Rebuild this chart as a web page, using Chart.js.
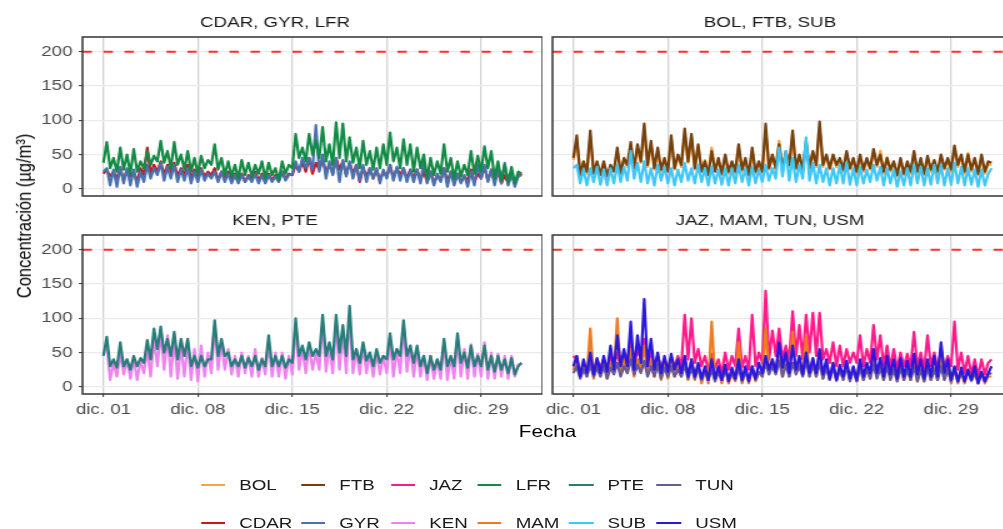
<!DOCTYPE html>
<html>
<head>
<meta charset="utf-8">
<script src="https://cdn.jsdelivr.net/npm/chart.js@4.4.1/dist/chart.umd.min.js"></script>
<style>
html, body { margin: 0; padding: 0; background: #fff; overflow: hidden; width: 1003px; height: 529px; }
#wrap { position: absolute; left: 0; top: 0; width: 830px; height: 529px; transform: scaleX(1.25); transform-origin: 0 0; font-family: "Liberation Sans", Arial, sans-serif; }
canvas { position: absolute; }
.ttl { position: absolute; color: #000; font-size: 16.5px; white-space: nowrap; transform: translate(-50%, -50%); }
#ytitle { transform: translate(-50%, -50%) rotate(-90deg); }
.key { position: absolute; height: 2.4px; width: 19.6px; }
.lab { position: absolute; font-size: 15px; line-height: 18px; color: #1a1a1a; white-space: nowrap; }
</style>
</head>
<body>
<div id="wrap">
  <canvas id="c0" width="428" height="216" style="left:6px;top:10px"></canvas>
  <canvas id="c1" width="388" height="216" style="left:422px;top:10px"></canvas>
  <canvas id="c2" width="428" height="216" style="left:6px;top:208px"></canvas>
  <canvas id="c3" width="388" height="216" style="left:422px;top:208px"></canvas>
  <div class="ttl" id="ytitle" style="left:19px;top:216px">Concentración (µg/m³)</div>
  <div class="ttl" id="xtitle" style="left:438px;top:431px">Fecha</div>
  <div id="legend"></div>
</div>
<script>
// samples every 6 h from dic. 01 00:00 (x in days)
const STEP_DAYS = 0.25;
const TICK_DAYS = [0, 7, 14, 21, 28];
const TICK_LABELS = ['dic. 01', 'dic. 08', 'dic. 15', 'dic. 22', 'dic. 29'];
const Y_TICKS = [0, 50, 100, 150, 200];
const LIMIT = 200;

const STATIONS = ['BOL', 'CDAR', 'FTB', 'GYR', 'JAZ', 'KEN', 'LFR', 'MAM', 'PTE', 'SUB', 'TUN', 'USM'];
const COLORS = {
    BOL: '#ffa03c', CDAR: '#d0141a', FTB: '#74410f', GYR: '#4a72b0',
    JAZ: '#ff1a8c', KEN: '#ee82ee', LFR: '#138a45', MAM: '#ee7b1f',
    PTE: '#277d7a', SUB: '#3fc8f7', TUN: '#6a5a92', USM: '#2b18de'
};

const LFR = [
    38,68,30,45, 25,60,28,50, 22,58,25,40, 30,55,35,48, 40,70,38,55, 30,68,35,50, 28,55,25,45, 22,48,30,42,
    35,65,28,45, 20,40,18,35, 15,42,20,38, 18,35,22,40, 15,38,20,30, 12,40,22,35, 30,80,45,60, 40,80,50,70,
    45,90,40,65, 35,97,45,95, 40,75,38,60, 30,70,35,55, 28,60,30,65, 35,82,40,60, 30,72,35,65, 25,60,30,50,
    15,45,20,40, 22,65,25,45, 15,40,18,35, 20,55,22,48, 25,62,30,55, 15,40,12,35, 10,32,8,25, 22
];
const CDAR = [
    22,28,18,25, 15,30,12,28, 18,25,10,30, 20,60,22,35, 25,40,20,35, 22,38,18,30, 20,35,15,28, 15,30,18,25,
    20,30,12,25, 15,25,12,22, 12,22,10,20, 15,25,12,22, 10,22,12,20, 12,25,15,22, 20,35,25,40, 25,45,22,38,
    28,42,25,35, 22,45,28,40, 20,38,22,35, 10,30,18,30, 15,28,12,25, 18,35,15,30, 20,30,15,28, 15,28,12,25,
    10,25,8,20, 12,30,10,25, 8,22,10,18, 12,28,10,22, 15,32,12,28, 10,25,8,20, 8,20,10,18, 22
];
const GYR = [
    25,30,5,28, 3,32,8,30, 5,28,3,25, 10,35,15,30, 20,38,12,32, 15,35,10,28, 12,30,8,25, 10,28,12,22,
    15,25,10,25, 10,22,8,20, 8,20,10,18, 10,22,8,20, 8,20,10,18, 10,25,12,20, 22,40,25,45, 30,45,28,93,
    25,50,15,40, 20,45,10,42, 18,40,15,35, 12,35,10,30, 15,30,8,28, 15,35,12,32, 12,30,10,28, 10,28,8,40,
    8,25,5,22, 10,30,3,25, 5,22,8,20, 3,25,5,35, 15,35,10,28, 5,30,8,38, 5,22,3,18, 20
];
const FTB = [
    45,78,20,40, 25,85,22,40, 20,40,18,35, 25,60,22,45, 35,68,30,65, 40,95,35,70, 30,60,28,45, 25,78,30,50,
    35,88,40,80, 30,65,25,40, 20,55,25,45, 22,50,25,40, 25,65,28,45, 20,60,25,40, 25,95,30,50, 30,65,28,55,
    35,85,30,50, 28,70,30,55, 35,98,35,50, 30,50,35,45, 28,55,30,45, 25,50,28,45, 30,58,35,50, 25,45,28,40,
    20,45,22,40, 25,55,25,45, 22,48,28,42, 25,50,30,45, 28,63,35,50, 25,50,28,45, 22,50,25,40, 38
];
const BOL = [
    42,70,25,38, 22,75,25,38, 22,38,20,33, 28,55,25,42, 32,62,28,60, 38,85,32,65, 28,55,25,42, 28,72,28,48,
    32,80,38,75, 28,60,28,42, 22,60,28,42, 20,48,22,38, 22,60,25,42, 18,55,22,38, 22,85,28,48, 28,70,30,52,
    32,78,28,48, 25,65,28,52, 32,88,32,48, 28,48,32,42, 25,52,28,42, 22,48,25,42, 28,55,32,55, 22,46,25,38,
    18,42,20,36, 22,52,22,42, 20,45,25,40, 22,48,28,42, 25,60,32,48, 22,52,25,44, 20,46,22,36, 35
];
const SUB = [
    30,35,8,28, 5,30,10,32, 6,28,5,30, 8,35,10,32, 12,55,15,38, 10,40,8,30, 5,35,12,32, 8,30,5,28,
    10,38,12,30, 8,35,10,30, 5,32,8,28, 6,30,5,30, 8,35,10,30, 5,32,8,28, 10,35,12,30, 15,60,18,55,
    12,45,10,35, 15,75,12,38, 8,35,10,30, 5,30,8,35, 8,38,6,30, 5,32,8,28, 10,35,12,32, 5,30,8,28,
    3,25,5,30, 5,35,8,32, 5,30,6,35, 8,35,5,30, 6,38,8,32, 5,30,6,28, 3,28,5,22, 30
];
const PTE = [
    45,73,30,40, 28,65,30,40, 25,45,30,42, 35,68,40,85, 55,88,50,70, 45,80,40,70, 45,70,30,45, 28,45,30,40,
    40,97,45,70, 45,50,30,40, 30,45,28,42, 30,45,25,40, 30,75,30,45, 30,45,28,40, 35,100,45,60, 40,65,45,55,
    45,105,45,65, 40,105,50,90, 45,118,40,55, 35,65,38,50, 30,55,35,45, 40,78,40,55, 45,97,45,60, 35,60,30,45,
    20,45,25,40, 25,70,30,45, 30,78,35,50, 28,60,30,45, 30,60,25,45, 22,45,25,40, 20,42,18,30, 35
];
const KEN = [
    50,60,10,35, 15,50,18,40, 12,42,10,38, 20,55,15,70, 30,80,25,75, 15,70,12,60, 15,65,10,55, 8,60,15,50,
    20,90,25,65, 25,55,18,45, 15,50,20,45, 15,55,15,42, 18,65,15,50, 15,50,12,45, 18,90,25,55, 20,60,25,50,
    25,95,22,60, 20,95,25,80, 20,105,20,55, 18,60,20,50, 15,50,18,45, 20,70,15,55, 20,90,22,60, 15,55,15,45,
    10,45,12,40, 12,65,10,45, 12,70,15,55, 12,62,15,48, 15,65,12,50, 12,48,15,45, 12,45,15,32, 35
];
const USM = [
    30,45,15,40, 20,50,18,42, 20,45,22,60, 25,75,30,55, 30,95,25,75, 35,128,30,70, 25,50,20,45, 22,48,25,40,
    20,45,15,40, 15,35,12,30, 10,40,12,30, 10,32,8,28, 12,40,10,30, 8,30,12,35, 20,45,25,40, 22,65,28,50,
    20,60,25,45, 18,50,20,42, 20,55,18,40, 12,35,10,32, 15,38,12,30, 10,40,15,35, 20,55,20,42, 15,45,18,40,
    12,42,15,38, 15,48,18,40, 12,40,15,45, 15,65,20,40, 10,30,8,28, 8,25,10,30, 5,22,8,20, 30
];
const JAZ = [
    45,40,20,35, 25,35,22,40, 28,40,25,45, 30,50,28,45, 35,70,30,55, 40,70,35,50, 30,45,28,40, 25,42,30,45,
    30,105,40,100, 35,55,30,45, 25,48,28,40, 20,50,25,45, 30,85,28,45, 25,105,30,50, 35,140,40,82, 45,85,40,60,
    40,110,45,90, 40,105,50,108, 45,108,40,55, 35,65,30,60, 30,55,35,50, 35,75,30,55, 35,90,40,75, 30,60,28,55,
    25,50,30,48, 30,80,28,50, 25,75,30,50, 25,55,28,45, 30,95,25,50, 20,45,18,40, 15,40,18,35, 40
];
const MAM = [
    25,45,15,30, 15,85,12,35, 15,40,12,35, 20,100,18,40, 20,55,15,40, 25,60,20,40, 15,40,10,35, 12,35,15,30,
    15,45,10,40, 10,30,5,25, 5,95,8,25, 5,30,5,20, 8,65,5,25, 5,30,8,22, 15,85,20,40, 20,55,15,45,
    15,80,20,40, 18,75,15,40, 15,50,12,35, 10,35,8,30, 12,35,10,28, 8,38,10,30, 12,45,15,35, 10,40,12,30,
    8,35,10,30, 10,42,8,30, 8,35,10,28, 10,40,12,30, 5,28,5,22, 5,25,8,20, 5,20,5,15, 15
];
const TUN = [
    20,30,12,25, 15,32,15,28, 15,30,12,28, 18,35,15,30, 20,40,18,32, 20,38,15,30, 15,32,12,28, 15,30,15,25,
    15,32,12,28, 12,28,10,25, 10,25,8,22, 10,25,10,20, 10,28,8,22, 10,25,10,22, 15,35,18,30, 18,38,15,32,
    15,35,18,30, 15,38,15,32, 15,35,12,28, 10,28,10,25, 10,30,8,25, 8,28,10,25, 12,32,12,28, 10,30,10,25,
    8,28,10,25, 10,30,8,25, 8,28,10,25, 10,30,10,25, 8,25,8,22, 8,22,10,20, 8,20,8,18, 20
];

const SERIES = { BOL, CDAR, FTB, GYR, JAZ, KEN, LFR, MAM, PTE, SUB, TUN, USM };

const PANELS = [
    { title: 'CDAR, GYR, LFR', stations: ['CDAR', 'GYR', 'LFR'] },
    { title: 'BOL, FTB, SUB', stations: ['BOL', 'FTB', 'SUB'] },
    { title: 'KEN, PTE', stations: ['KEN', 'PTE'] },
    { title: 'JAZ, MAM, TUN, USM', stations: ['JAZ', 'MAM', 'TUN', 'USM'] }
];

// axis expansion like ggplot (5%)
const X_MIN = -1.55, X_MAX = 32.55;
const Y_MIN = -10.5, Y_MAX = 221.5;
const FONT = '"Liberation Sans", Arial, sans-serif';

const panelDeco = {
    id: 'panelDeco',
    beforeDatasetsDraw(chart) {
        const { ctx, chartArea: a, scales: { y } } = chart;
        const py = y.getPixelForValue(LIMIT);
        ctx.save();
        ctx.strokeStyle = '#ff2f2f';
        ctx.lineWidth = 1.8;
        ctx.setLineDash([7.5, 9.3]);
        ctx.beginPath();
        ctx.moveTo(a.left, py);
        ctx.lineTo(a.right, py);
        ctx.stroke();
        ctx.restore();
    },
    afterDraw(chart) {
        const { ctx, chartArea: a } = chart;
        ctx.save();
        ctx.strokeStyle = '#333333';
        ctx.lineWidth = 1.5;
        ctx.strokeRect(a.left, a.top, a.right - a.left, a.bottom - a.top);
        ctx.restore();
    }
};

function makeChart(panel, i) {
    const left = i % 2 === 0;      // y labels only on left column
    const bottom = i >= 2;         // x labels only on bottom row
    new Chart(document.getElementById('c' + i), {
        type: 'line',
        data: {
            // first dataset is drawn on top, so reverse (last group on top)
            datasets: panel.stations.slice().reverse().map(s => ({
                label: s,
                data: SERIES[s].map((v, k) => ({ x: k * STEP_DAYS, y: v })),
                borderColor: COLORS[s],
                borderWidth: 2.2,
                borderJoinStyle: 'round',
                pointRadius: 0,
                tension: 0,
                fill: false
            }))
        },
        options: {
            responsive: false,
            animation: false,
            events: [],
            layout: { padding: 0 },
            plugins: {
                legend: { display: false },
                tooltip: { enabled: false },
                title: {
                    display: true,
                    text: panel.title,
                    color: '#1a1a1a',
                    font: { family: FONT, size: 15, weight: 'normal' },
                    padding: { top: 4, bottom: 5 }
                }
            },
            scales: {
                x: {
                    type: 'linear',
                    min: X_MIN,
                    max: X_MAX,
                    afterBuildTicks: s => { s.ticks = TICK_DAYS.map(v => ({ value: v })); },
                    afterFit: s => { s.height = 30; },
                    border: { display: false },
                    grid: { color: '#d4d4d4', lineWidth: 1.3, drawTicks: bottom, tickLength: 3, tickColor: '#333333', tickWidth: 1 },
                    ticks: {
                        display: bottom,
                        autoSkip: false,
                        maxRotation: 0,
                        padding: 4,
                        color: '#4d4d4d',
                        font: { family: FONT, size: 15 },
                        callback: v => TICK_LABELS[TICK_DAYS.indexOf(v)]
                    }
                },
                y: {
                    min: Y_MIN,
                    max: Y_MAX,
                    afterBuildTicks: s => { s.ticks = Y_TICKS.map(v => ({ value: v })); },
                    afterFit: s => { s.width = left ? 60 : 20; },
                    border: { display: false },
                    grid: { color: '#ebebeb', lineWidth: 1.2, drawTicks: left, tickLength: 3, tickColor: '#333333', tickWidth: 1 },
                    ticks: {
                        display: left,
                        padding: 5,
                        color: '#4d4d4d',
                        font: { family: FONT, size: 15 }
                    }
                }
            }
        },
        plugins: [panelDeco]
    });
}

PANELS.forEach(makeChart);

// legend, two rows filled column by column
const LEGEND_X = [160.6, 240.6, 312.6, 381.8, 455.2, 525.4];
const LEGEND_Y = [485, 523];
const legend = document.getElementById('legend');
STATIONS.forEach((s, i) => {
    const col = Math.floor(i / 2), row = i % 2;
    const key = document.createElement('div');
    key.className = 'key';
    key.style.left = LEGEND_X[col] + 'px';
    key.style.top = (LEGEND_Y[row] - 1.2) + 'px';
    key.style.background = COLORS[s];
    legend.appendChild(key);
    const lab = document.createElement('div');
    lab.className = 'lab';
    lab.style.left = (LEGEND_X[col] + 30.8) + 'px';
    lab.style.top = (LEGEND_Y[row] - 9) + 'px';
    lab.textContent = s;
    legend.appendChild(lab);
});
</script>
</body>
</html>
